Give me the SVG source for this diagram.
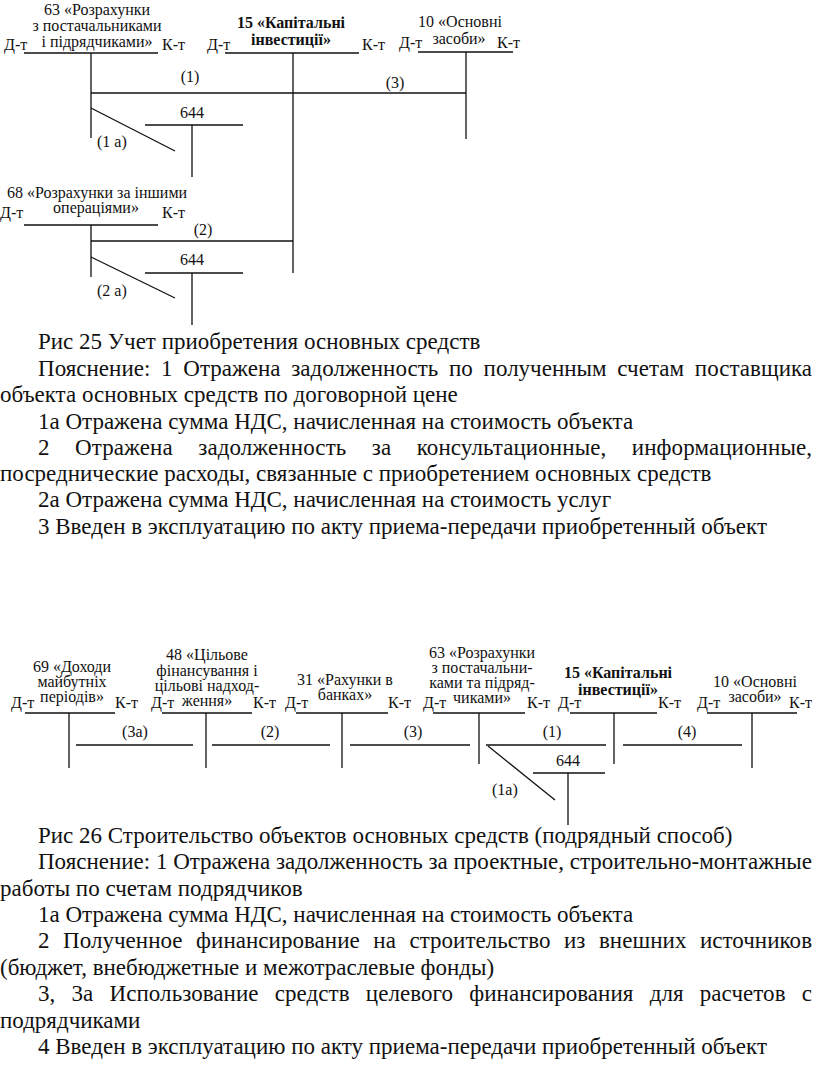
<svg xmlns="http://www.w3.org/2000/svg" width="816" height="1092" viewBox="0 0 816 1092">
<style>
.ln{stroke:#111;stroke-width:1.3;fill:none}
.t{font-family:"Liberation Serif","Times New Roman",serif;font-size:16px;fill:#111}
.tc{font-family:"Liberation Serif","Times New Roman",serif;font-size:16px;fill:#111;text-anchor:middle}
.tb{font-family:"Liberation Serif","Times New Roman",serif;font-size:16px;font-weight:bold;fill:#111;text-anchor:middle}
.p{font-family:"Liberation Serif","Times New Roman",serif;font-size:23px;fill:#111}
</style>
<rect width="816" height="1092" fill="#fff"/>

<!-- ===== Figure 25 ===== -->
<g id="acc63-top">
<text class="tc" x="97" y="15">63 «Розрахунки</text>
<text class="tc" x="97" y="31">з постачальниками</text>
<text class="tc" x="97" y="47">і підрядчиками»</text>
<text class="t" x="4" y="50">Д-т</text>
<text class="t" x="162" y="50">К-т</text>
<path class="ln" d="M24 53H158M91 53V138"/>
</g>
<g id="acc15-top">
<text class="tb" x="291" y="28">15 «Капітальні</text>
<text class="tb" x="291" y="45">інвестиції»</text>
<text class="t" x="207" y="50">Д-т</text>
<text class="t" x="362" y="50">К-т</text>
<path class="ln" d="M225 53H359M293 53V273"/>
</g>
<g id="acc10-top">
<text class="tc" x="460" y="27">10 «Основні</text>
<text class="tc" x="459" y="44">засоби»</text>
<text class="t" x="399" y="48">Д-т</text>
<text class="t" x="497" y="48">К-т</text>
<path class="ln" d="M418 52H513M466 52V139"/>
</g>
<g id="acc644-top1">
<text class="tc" x="192" y="118">644</text>
<path class="ln" d="M145 125H243M192 125V177"/>
</g>
<g id="acc68-top">
<text class="tc" x="97" y="198">68 «Розрахунки за іншими</text>
<text class="tc" x="96" y="213">операціями»</text>
<text class="t" x="0" y="218">Д-т</text>
<text class="t" x="162" y="218">К-т</text>
<path class="ln" d="M24 225H158M91 225V277"/>
</g>
<g id="acc644-top2">
<text class="tc" x="192" y="265">644</text>
<path class="ln" d="M145 273H243M192 273V325"/>
</g>
<g id="connectors-top">
<path class="ln" d="M91 93H466"/>
<text class="tc" x="190" y="82">(1)</text>
<text class="tc" x="395" y="88">(3)</text>
<path class="ln" d="M91 108L175 151"/>
<text class="t" x="97" y="147">(1 а)</text>
<path class="ln" d="M91 241H293"/>
<text class="tc" x="203" y="235">(2)</text>
<path class="ln" d="M91 257L175 298"/>
<text class="t" x="97" y="296">(2 а)</text>
</g>

<g id="caption25">
<text class="p" x="38" y="349">Рис 25 Учет приобретения основных средств</text>
<text class="p" x="38" y="376" word-spacing="5" textLength="774" lengthAdjust="spacing">Пояснение: 1 Отражена задолженность по полученным счетам поставщика</text>
<text class="p" x="0" y="402">объекта основных средств по договорной цене</text>
<text class="p" x="38" y="429">1а Отражена сумма НДС, начисленная на стоимость объекта</text>
<text class="p" x="38" y="455" word-spacing="19.6" textLength="774" lengthAdjust="spacing">2 Отражена задолженность за консультационные, информационные,</text>
<text class="p" x="0" y="481">посреднические расходы, связанные с приобретением основных средств</text>
<text class="p" x="38" y="507">2а Отражена сумма НДС, начисленная на стоимость услуг</text>
<text class="p" x="38" y="534">3 Введен в эксплуатацию по акту приема-передачи приобретенный объект</text>
</g>

<!-- ===== Figure 26 ===== -->
<g id="acc69">
<text class="tc" x="72" y="672">69 «Доходи</text>
<text class="tc" x="72" y="687">майбутніх</text>
<text class="tc" x="72" y="702">періодів»</text>
<text class="t" x="11" y="708">Д-т</text>
<text class="t" x="115" y="708">К-т</text>
<path class="ln" d="M25 713H115M69 713V768"/>
</g>
<g id="acc48">
<text class="tc" x="207" y="660">48 «Цільове</text>
<text class="tc" x="207" y="676">фінансування і</text>
<text class="tc" x="207" y="691">цільові надход-</text>
<text class="tc" x="207" y="706">ження»</text>
<text class="t" x="151" y="708">Д-т</text>
<text class="t" x="253" y="708">К-т</text>
<path class="ln" d="M162 713H252M206 713V768"/>
</g>
<g id="acc31">
<text class="tc" x="345" y="685">31 «Рахунки в</text>
<text class="tc" x="345" y="700">банках»</text>
<text class="t" x="285" y="708">Д-т</text>
<text class="t" x="388" y="708">К-т</text>
<path class="ln" d="M296 713H388M342 713V768"/>
</g>
<g id="acc63">
<text class="tc" x="482" y="658">63 «Розрахунки</text>
<text class="tc" x="482" y="673">з постачальни-</text>
<text class="tc" x="482" y="688">ками та підряд-</text>
<text class="tc" x="482" y="703">чиками»</text>
<text class="t" x="423" y="708">Д-т</text>
<text class="t" x="527" y="708">К-т</text>
<path class="ln" d="M433 713H525M479 713V764"/>
</g>
<g id="acc15">
<text class="tb" x="618" y="678">15 «Капітальні</text>
<text class="tb" x="618" y="695">інвестиції»</text>
<text class="t" x="558" y="708">Д-т</text>
<text class="t" x="658" y="708">К-т</text>
<path class="ln" d="M570 713H657M614 713V764"/>
</g>
<g id="acc10">
<text class="tc" x="755" y="687">10 «Основні</text>
<text class="tc" x="755" y="702">засоби»</text>
<text class="t" x="697" y="708">Д-т</text>
<text class="t" x="789" y="708">К-т</text>
<path class="ln" d="M707 713H797M752 713V768"/>
</g>
<g id="acc644">
<text class="tc" x="568" y="766">644</text>
<path class="ln" d="M533 773H605M568 773V825"/>
</g>
<g id="connectors-bottom">
<path class="ln" d="M76 745H193"/>
<text class="tc" x="135" y="737">(3а)</text>
<path class="ln" d="M212 745H330"/>
<text class="tc" x="270" y="737">(2)</text>
<path class="ln" d="M350 745H470"/>
<text class="tc" x="413" y="737">(3)</text>
<path class="ln" d="M486 745H606"/>
<text class="tc" x="552" y="737">(1)</text>
<path class="ln" d="M623 745H742"/>
<text class="tc" x="687" y="737">(4)</text>
<path class="ln" d="M488 746L555 800"/>
<text class="t" x="492" y="795">(1а)</text>
</g>

<g id="caption26">
<text class="p" x="38" y="843">Рис 26 Строительство объектов основных средств (подрядный способ)</text>
<text class="p" x="38" y="869" textLength="774" lengthAdjust="spacing">Пояснение: 1 Отражена задолженность за проектные, строительно-монтажные</text>
<text class="p" x="0" y="896">работы по счетам подрядчиков</text>
<text class="p" x="38" y="922">1а Отражена сумма НДС, начисленная на стоимость объекта</text>
<text class="p" x="38" y="948" word-spacing="7.7" textLength="774" lengthAdjust="spacing">2 Полученное финансирование на строительство из внешних источников</text>
<text class="p" x="0" y="975">(бюджет, внебюджетные и межотраслевые фонды)</text>
<text class="p" x="38" y="1001" word-spacing="10.4" textLength="774" lengthAdjust="spacing">3, 3а Использование средств целевого финансирования для расчетов с</text>
<text class="p" x="0" y="1028">подрядчиками</text>
<text class="p" x="38" y="1054">4 Введен в эксплуатацию по акту приема-передачи приобретенный объект</text>
</g>
</svg>
